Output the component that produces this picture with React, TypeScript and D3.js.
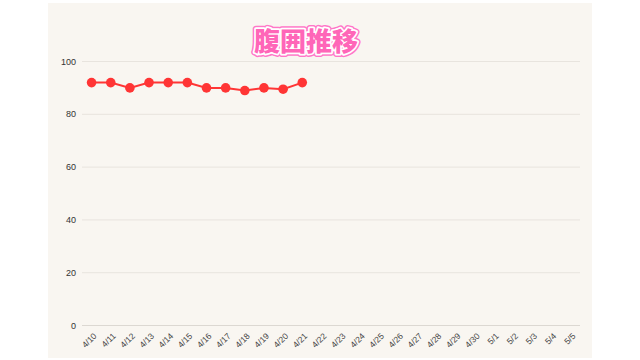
import React from "react";
import * as d3 from "d3";

// Waist circumference log (cm), one reading per day
const dates = [
  "4/10", "4/11", "4/12", "4/13", "4/14", "4/15", "4/16", "4/17", "4/18",
  "4/19", "4/20", "4/21", "4/22", "4/23", "4/24", "4/25", "4/26", "4/27",
  "4/28", "4/29", "4/30", "5/1", "5/2", "5/3", "5/4", "5/5",
];
const waist = [92, 92, 90, 92, 92, 92, 90, 90, 89, 90, 89.5, 92];
const yTicks = [0, 20, 40, 60, 80, 100];
const title = "腹囲推移";

const W = 640;
const H = 360;
const panel = { x: 48, y: 3, w: 544, h: 355 };
const plot = { left: 82, right: 580, top: 61.5, bottom: 325.5 };

export default function App() {
  const x = d3
    .scaleBand<string>()
    .domain(dates)
    .range([plot.left, plot.right])
    .padding(0);
  const y = d3.scaleLinear().domain([0, 100]).range([plot.bottom, plot.top]);
  const cx = (d: string) => (x(d) ?? 0) + x.bandwidth() / 2;

  const points = waist.map((v, i) => ({ date: dates[i], v }));
  const line = d3
    .line<{ date: string; v: number }>()
    .x((d) => cx(d.date))
    .y((d) => y(d.v));

  const tickFont = "'Liberation Sans', Arial, sans-serif";

  return (
    <svg
      width={W}
      height={H}
      style={{ position: "absolute", left: 0, top: 0, background: "#ffffff" }}
    >
      <rect x={panel.x} y={panel.y} width={panel.w} height={panel.h} fill="#f9f6f1" />

      {yTicks.map((t) => (
        <g key={t}>
          <line
            x1={plot.left}
            x2={plot.right}
            y1={y(t)}
            y2={y(t)}
            stroke={t === 0 ? "#dcd8d2" : "#e8e4de"}
            strokeWidth={1}
          />
          <text
            x={76}
            y={y(t)}
            dy="0.35em"
            textAnchor="end"
            fontSize={9}
            fontFamily={tickFont}
            fill="#333"
          >
            {t}
          </text>
        </g>
      ))}

      {dates.map((d) => (
        <text
          key={d}
          transform={`translate(${cx(d) + 3.5},${plot.bottom + 9}) rotate(-45)`}
          textAnchor="end"
          dy="0.35em"
          fontSize={8.5}
          fontFamily={tickFont}
          fill="#444"
        >
          {d}
        </text>
      ))}

      <path d={line(points) ?? ""} fill="none" stroke="#ff3535" strokeWidth={2} />
      {points.map((p) => (
        <circle key={p.date} cx={cx(p.date)} cy={y(p.v)} r={4.8} fill="#ff3535" />
      ))}

      <g
        fontFamily="'Noto Sans CJK JP', sans-serif"
        fontWeight={900}
        fontSize={26}
        textAnchor="middle"
      >
        <text x={306} y={51} fill="none" stroke="#ff77c8" strokeWidth={6.5} strokeLinejoin="round">
          {title}
        </text>
        <text x={306} y={51} fill="none" stroke="#ffffff" strokeWidth={3.5} strokeLinejoin="round">
          {title}
        </text>
        <text x={306} y={51} fill="#ff66b8">
          {title}
        </text>
      </g>
    </svg>
  );
}
